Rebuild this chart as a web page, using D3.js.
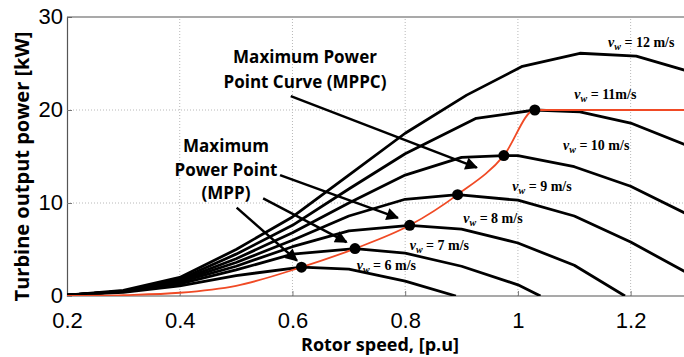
<!DOCTYPE html>
<html>
<head>
<meta charset="utf-8">
<script src="https://cdn.jsdelivr.net/npm/d3@7"></script>
<style>
  body { margin: 0; background: #fff; }
  svg { display: block; }
</style>
</head>
<body>
<div id="chart"></div>
<script>
// rotor speed [p.u] / power [kW] vertices, one list per wind speed
const windSpeeds = [6, 7, 8, 9, 10, 11, 12];
const curve6 = [[0.2,0.1],[0.3,0.4],[0.4,1.1],[0.5,2.2],[0.616,3.1],[0.7,2.9],[0.8,1.6],[0.89,0]];
const curve7 = [[0.2,0.1],[0.3,0.5],[0.4,1.3],[0.5,2.8],[0.6,4.5],[0.711,5.1],[0.8,4.6],[0.9,3.2],[1.0,1.2],[1.04,0]];
const curve8 = [[0.2,0.1],[0.3,0.5],[0.4,1.5],[0.5,3.2],[0.6,5.3],[0.7,7.0],[0.808,7.6],[0.9,7.2],[1.0,5.7],[1.1,3.3],[1.19,0]];
const curve9 = [[0.2,0.1],[0.3,0.5],[0.4,1.6],[0.5,3.6],[0.6,6.0],[0.7,8.6],[0.8,10.4],[0.893,10.9],[1.0,10.3],[1.1,8.6],[1.2,5.8],[1.3,2.5]];
const curve10 = [[0.2,0.1],[0.3,0.5],[0.4,1.7],[0.5,4.0],[0.6,6.8],[0.7,10.0],[0.8,13.0],[0.9,14.9],[0.975,15.1],[1.0,15.1],[1.1,13.9],[1.2,11.8],[1.3,8.8]];
const curve11 = [[0.2,0.1],[0.3,0.5],[0.4,1.8],[0.5,4.5],[0.6,7.6],[0.7,11.5],[0.8,15.3],[0.926,19.1],[1.03,20],[1.11,19.8],[1.2,18.6],[1.3,16.2]];
const curve12 = [[0.2,0.1],[0.3,0.6],[0.4,2.0],[0.5,5.0],[0.6,8.5],[0.7,13.0],[0.8,17.5],[0.909,21.6],[1.008,24.7],[1.11,26.1],[1.21,25.8],[1.3,24.2]];
const powerCurves = [curve6, curve7, curve8, curve9, curve10, curve11, curve12];

// maximum power points and the MPPC through them
const mppSpeed = [0.616, 0.711, 0.808, 0.893, 0.975, 1.03];
const mppPower = [3.1, 5.1, 7.6, 10.9, 15.1, 20.0];
const mppcCurve = [[0.2,0],[0.3,0.1],[0.4,0.35],[0.5,1.1],[0.616,3.1],[0.711,5.1],[0.808,7.6],[0.893,10.9],[0.975,15.1],[1.03,20],[1.3,20]];

const xTicks = [0.2, 0.4, 0.6, 0.8, 1, 1.2];
const yTicks = [0, 10, 20, 30];
const windLabels = ["6 m/s", "7 m/s", "8 m/s", "9 m/s", "10 m/s", "11m/s", "12 m/s"];
// label anchors in data units
const labelAt = [[0.714,2.8],[0.808,5.0],[0.903,7.8],[0.99,11.3],[1.08,15.7],[1.10,21.2],[1.16,26.8]];

const width = 684;
const height = 357;
const margin = { top: 17, right: -3, bottom: 61, left: 67 };
const innerW = width - margin.left - margin.right;
const innerH = height - margin.top - margin.bottom;

const svg = d3.select("#chart").append("svg")
  .attr("width", width)
  .attr("height", height);

const x = d3.scaleLinear().domain([0.2, 1.3]).range([margin.left, margin.left + innerW]);
const y = d3.scaleLinear().domain([0, 30]).range([margin.top + innerH, margin.top]);

svg.append("defs").append("clipPath").attr("id", "plotClip")
  .append("rect")
  .attr("x", x(0.2)).attr("y", y(30))
  .attr("width", innerW).attr("height", innerH);

svg.append("defs").append("marker")
  .attr("id", "arrow")
  .attr("viewBox", "0 0 10 10")
  .attr("refX", 9).attr("refY", 5)
  .attr("markerWidth", 7).attr("markerHeight", 5)
  .attr("markerUnits", "strokeWidth")
  .attr("orient", "auto")
  .append("path")
  .attr("d", "M0,0 L10,5 L0,10 Z")
  .attr("fill", "#000");

// grid
const grid = svg.append("g").attr("stroke", "#b8b8b8").attr("stroke-width", 1).attr("stroke-dasharray", "1,2");
grid.selectAll("line.vx")
  .data(xTicks.slice(1))
  .enter().append("line")
  .attr("x1", d => x(d)).attr("x2", d => x(d))
  .attr("y1", y(0)).attr("y2", y(30));
grid.selectAll("line.hy")
  .data(yTicks.slice(1, 3))
  .enter().append("line")
  .attr("x1", x(0.2)).attr("x2", width)
  .attr("y1", d => y(d)).attr("y2", d => y(d));

// axes
const xAxis = svg.append("g")
  .attr("transform", `translate(0,${y(0)})`)
  .call(d3.axisBottom(x).tickValues(xTicks).tickSize(-5).tickPadding(16).tickFormat(d3.format("")));
const yAxis = svg.append("g")
  .attr("transform", `translate(${x(0.2)},0)`)
  .call(d3.axisLeft(y).tickValues(yTicks).tickSize(-5).tickPadding(4));
[xAxis, yAxis].forEach(a => {
  a.select(".domain").attr("stroke", "#555").attr("stroke-width", 1.2);
  a.selectAll(".tick line").attr("stroke", "#777");
  a.selectAll(".tick text")
    .attr("fill", "#000")
    .style("font-family", "'Liberation Sans', Arial, sans-serif")
    .style("font-size", "22px");
});
yAxis.selectAll(".tick text").attr("dy", "0.28em");
xAxis.select(".domain").attr("d", `M${x(0.2)},0H${width}`);
svg.append("line")
  .attr("x1", x(0.2)).attr("x2", width)
  .attr("y1", y(30)).attr("y2", y(30))
  .attr("stroke", "#555").attr("stroke-width", 1.2);

// power curves
const plot = svg.append("g").attr("clip-path", "url(#plotClip)");
const line = d3.line().x(d => x(d[0])).y(d => y(d[1]));

plot.selectAll("path.pc")
  .data(powerCurves)
  .enter().append("path")
  .attr("class", "pc")
  .attr("fill", "none")
  .attr("stroke", "#000")
  .attr("stroke-width", 2.8)
  .attr("stroke-linejoin", "round")
  .attr("d", line);

plot.append("path")
  .datum(mppcCurve)
  .attr("fill", "none")
  .attr("stroke", "#f04a25")
  .attr("stroke-width", 1.8)
  .attr("d", d3.line().x(d => x(d[0])).y(d => y(d[1])).curve(d3.curveMonotoneX));

plot.selectAll("circle.mpp")
  .data(mppSpeed)
  .enter().append("circle")
  .attr("cx", d => x(d))
  .attr("cy", (d, i) => y(mppPower[i]))
  .attr("r", 5.5)
  .attr("fill", "#000");

// wind speed labels
const wl = svg.append("g")
  .style("font-family", "'Liberation Serif', 'Times New Roman', serif")
  .style("font-weight", "bold")
  .style("font-size", "14px");
windLabels.forEach((t, i) => {
  const txt = wl.append("text").attr("x", x(labelAt[i][0])).attr("y", y(labelAt[i][1]));
  txt.append("tspan").style("font-style", "italic").text("v");
  txt.append("tspan").attr("dy", 3).style("font-size", "10px").style("font-style", "italic").text("w");
  txt.append("tspan").attr("dy", -3).text(" = " + t);
});

// annotations
const notes = svg.append("g")
  .style("font-family", "'Open Sans', sans-serif")
  .style("font-weight", "bold")
  .style("font-size", "17px")
  .attr("text-anchor", "middle");
notes.append("text").attr("x", 305).attr("y", 63).text("Maximum Power");
notes.append("text").attr("x", 305).attr("y", 88).text("Point Curve (MPPC)");
notes.append("text").attr("x", 226).attr("y", 152).text("Maximum");
notes.append("text").attr("x", 226).attr("y", 176).text("Power Point");
notes.append("text").attr("x", 226).attr("y", 199).text("(MPP)");

const arrows = [
  [[0.597,21.5],[0.927,13.8]],
  [[0.578,13.0],[0.787,8.4]],
  [[0.548,10.5],[0.696,5.8]],
  [[0.501,9.5],[0.608,3.8]]
];
svg.selectAll("line.arr")
  .data(arrows)
  .enter().append("line")
  .attr("x1", d => x(d[0][0])).attr("y1", d => y(d[0][1]))
  .attr("x2", d => x(d[1][0])).attr("y2", d => y(d[1][1]))
  .attr("stroke", "#000")
  .attr("stroke-width", 2.5)
  .attr("marker-end", "url(#arrow)");

// axis titles
svg.append("text")
  .attr("x", 380).attr("y", 351)
  .attr("text-anchor", "middle")
  .style("font-family", "'Open Sans', sans-serif")
  .style("font-weight", "bold")
  .style("font-size", "18px")
  .text("Rotor speed, [p.u]");
svg.append("text")
  .attr("transform", `translate(29,${y(15) + 10}) rotate(-90)`)
  .attr("text-anchor", "middle")
  .style("font-family", "'Open Sans', sans-serif")
  .style("font-weight", "bold")
  .style("font-size", "20px")
  .text("Turbine output power [kW]");
</script>
</body>
</html>
